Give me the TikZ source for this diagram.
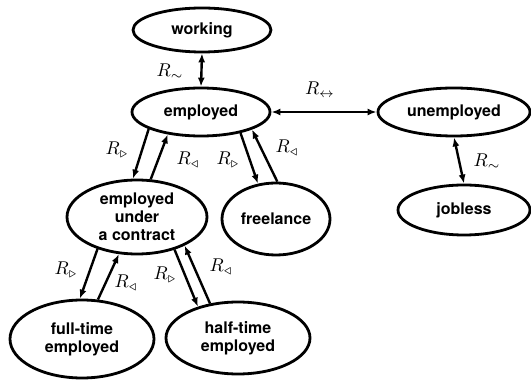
\documentclass[tikz,border=0pt]{standalone}
\usepackage{graphicx}
\usepackage{fontspec}
\setmainfont{TeX Gyre Heros}
\usetikzlibrary{shapes.geometric,arrows.meta}
\newcommand{\biglab}[1]{\scalebox{1.85}{$#1$}}
\begin{document}
\begin{tikzpicture}[x=1pt,y=-1pt,
  state/.style={draw,ellipse,line width=2.8pt,inner sep=0pt,align=center,
    font=\fontsize{16}{18}\selectfont\bfseries},
  rel/.style={line width=2.4pt,-{Latex[length=9pt,width=7pt]}},
  relb/.style={line width=2.4pt,{Latex[length=9pt,width=7pt]}-{Latex[length=9pt,width=7pt]}},
  lab/.style={inner sep=0pt}]
\useasboundingbox (0,0) rectangle (531,382);
\node[state,minimum width=138pt,minimum height=44pt] (wor) at (202,30) {working};
\node[state,minimum width=138pt,minimum height=48pt] (emp) at (201,112) {employed};
\node[state,minimum width=152pt,minimum height=48pt] (une) at (454,112) {unemployed};
\node[state,minimum width=132pt,minimum height=50pt] (job) at (464,210) {jobless};
\node[state,minimum width=140pt,minimum height=74pt] (con) at (137,217) {employed\\under\\a contract};
\node[state,minimum width=108pt,minimum height=72pt] (fre) at (276,219) {freelance};
\node[state,minimum width=144pt,minimum height=78pt] (ful) at (82,339) {full-time\\employed};
\node[state,minimum width=144pt,minimum height=72pt] (hal) at (238,338) {half-time\\employed};

\draw[relb] (wor.south) -- (emp.north);
\draw[relb] (emp.east) -- (une.west);
\draw[relb] (une.south) -- (job.north);
\draw[rel] (emp.198) -- (con.96);
\draw[rel] (con.70) -- (emp.214);
\draw[rel] (emp.332) -- (fre.117);
\draw[rel] (fre.88) -- (emp.341);
\draw[rel] (con.219) -- (ful.93);
\draw[rel] (ful.68) -- (con.244);
\draw[rel] (con.319) -- (hal.142);
\draw[rel] (hal.129) -- (con.329);

\node[lab] (l1) at (170,72) {\biglab{R_\sim}};
\node[lab] (l2) at (320,90) {\biglab{R_\leftrightarrow}};
\node[lab] (l3) at (487,162) {\biglab{R_\sim}};
\node[lab] (l4) at (117,150) {\biglab{R_\triangleright}};
\node[lab] (l5) at (188,160) {\biglab{R_\triangleleft}};
\node[lab] (l6) at (228,160) {\biglab{R_\triangleright}};
\node[lab] (l7) at (287,148) {\biglab{R_\triangleleft}};
\node[lab] (l8) at (66,270) {\biglab{R_\triangleright}};
\node[lab] (l9) at (126,283) {\biglab{R_\triangleleft}};
\node[lab] (l10) at (165,275) {\biglab{R_\triangleright}};
\node[lab] (l11) at (221,267) {\biglab{R_\triangleleft}};
\end{tikzpicture}
\end{document}
